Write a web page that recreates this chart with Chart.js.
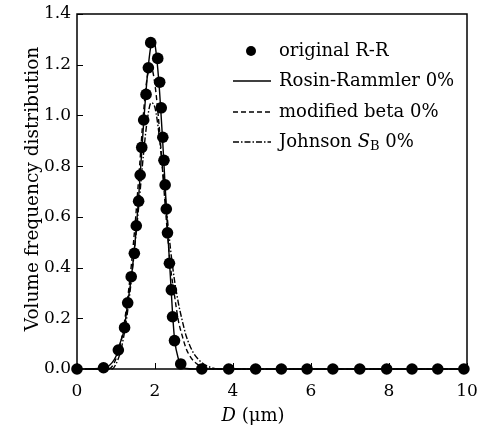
<!DOCTYPE html>
<html>
<head>
<meta charset="utf-8">
<script src="https://cdn.jsdelivr.net/npm/chart.js@4.4.1/dist/chart.umd.min.js"></script>
<style>
  html, body { margin: 0; padding: 0; background: #fff; }
  #wrap { width: 482px; height: 431px; position: relative; }
</style>
</head>
<body>
<div id="wrap"><canvas id="chart"></canvas></div>
<script>
// Volume frequency distribution vs droplet diameter D (um)

// original R-R sample points
const dotD = [0, 0.68, 1.06, 1.22, 1.30, 1.39, 1.47, 1.52, 1.58, 1.62, 1.66, 1.71, 1.77, 1.83, 1.89,
    2.07, 2.12, 2.16, 2.20, 2.23, 2.26, 2.29, 2.32, 2.37, 2.42, 2.45, 2.50, 2.66,
    3.20, 3.89, 4.58, 5.24, 5.90, 6.56, 7.25, 7.94, 8.59, 9.25, 9.92];
const dotV = [0, 0.005, 0.075, 0.163, 0.261, 0.364, 0.456, 0.565, 0.662, 0.765, 0.874, 0.982, 1.083, 1.188, 1.287,
    1.225, 1.131, 1.030, 0.914, 0.823, 0.726, 0.631, 0.537, 0.417, 0.312, 0.206, 0.112, 0.020,
    0, 0, 0, 0, 0, 0, 0, 0, 0, 0, 0];

// Rosin-Rammler 0% (solid)
const rrD = [0, 0.7, 0.9, 1.0, 1.1, 1.2, 1.3, 1.4, 1.5, 1.6, 1.7, 1.8, 1.9, 1.95, 2.0, 2.1, 2.2, 2.3, 2.4, 2.45, 2.5, 2.6, 2.7, 2.8, 3.0, 10];
const rrV = [0, 0.003, 0.025, 0.05, 0.10, 0.15, 0.26, 0.37, 0.52, 0.72, 0.95, 1.15, 1.28, 1.30, 1.28, 1.13, 0.89, 0.61, 0.35, 0.22, 0.12, 0.04, 0.01, 0.002, 0, 0];

// modified beta 0% (dashed)
const betaD = [0, 0.8, 0.9, 1.0, 1.1, 1.2, 1.3, 1.4, 1.5, 1.6, 1.7, 1.8, 1.9, 2.0, 2.1, 2.2, 2.3, 2.4, 2.5, 2.6, 2.7, 2.8, 2.9, 3.0, 3.1, 3.3, 3.5, 10];
const betaV = [0, 0, 0.01, 0.04, 0.09, 0.17, 0.28, 0.42, 0.59, 0.79, 1.0, 1.15, 1.19, 1.12, 0.97, 0.77, 0.57, 0.40, 0.29, 0.19, 0.13, 0.08, 0.05, 0.03, 0.017, 0.005, 0, 0];

// Johnson SB 0% (dash-dot)
const sbD = [0, 0.9, 1.0, 1.1, 1.2, 1.3, 1.4, 1.5, 1.6, 1.7, 1.8, 1.9, 2.0, 2.1, 2.2, 2.3, 2.4, 2.5, 2.6, 2.7, 2.8, 2.9, 3.0, 3.2, 3.4, 3.7, 10];
const sbV = [0, 0, 0.02, 0.06, 0.13, 0.23, 0.36, 0.51, 0.67, 0.84, 0.98, 1.05, 1.03, 0.93, 0.78, 0.62, 0.47, 0.35, 0.26, 0.19, 0.13, 0.09, 0.06, 0.025, 0.008, 0, 0];

const FONT = '"DejaVu Serif", serif';

function pts(xs, ys) {
    return xs.map((x, i) => ({ x, y: ys[i] }));
}

// frame, inward tick marks, axis titles and legend
const decorations = {
    id: 'decorations',
    beforeDatasetsDraw(chart) {
        const { ctx, chartArea: a } = chart;
        const xs = chart.scales.x, ys = chart.scales.y;
        ctx.save();
        ctx.strokeStyle = '#000';
        ctx.lineWidth = 1.5;
        ctx.strokeRect(a.left, a.top, a.right - a.left, a.bottom - a.top);
        ctx.lineWidth = 1;
        ctx.beginPath();
        xs.ticks.forEach(t => {
            const px = Math.round(xs.getPixelForValue(t.value)) + 0.5;
            ctx.moveTo(px, a.bottom);
            ctx.lineTo(px, a.bottom - 6);
        });
        ys.ticks.forEach(t => {
            const py = Math.round(ys.getPixelForValue(t.value)) + 0.5;
            ctx.moveTo(a.left, py);
            ctx.lineTo(a.left + 6, py);
        });
        ctx.stroke();
        ctx.restore();
    },
    afterDraw(chart) {
        const { ctx } = chart;
        ctx.save();
        ctx.fillStyle = '#000';
        ctx.strokeStyle = '#000';

        // y title
        ctx.save();
        ctx.translate(33, 189);
        ctx.rotate(-Math.PI / 2);
        ctx.font = '18.5px ' + FONT;
        ctx.textAlign = 'center';
        ctx.textBaseline = 'middle';
        ctx.fillText('Volume frequency distribution', 0, 0);
        ctx.restore();

        // x title: italic D + (µm)
        ctx.textBaseline = 'middle';
        ctx.textAlign = 'left';
        ctx.font = 'italic 18px ' + FONT;
        const dW = ctx.measureText('D').width;
        ctx.font = '18px ' + FONT;
        const restW = ctx.measureText(' (\u03bcm)').width;
        let x0 = 253 - (dW + restW) / 2;
        ctx.font = 'italic 18px ' + FONT;
        ctx.fillText('D', x0, 416);
        ctx.font = '18px ' + FONT;
        ctx.fillText(' (\u03bcm)', x0 + dW, 416);

        // legend
        const rows = [51, 81, 112, 142];
        const sx0 = 233, sx1 = 271, tx = 279;
        ctx.beginPath();
        ctx.arc(251, rows[0], 5, 0, Math.PI * 2);
        ctx.fill();
        ctx.lineWidth = 1.4;
        const dashes = [[], [5, 3], [6, 2, 1.5, 2]];
        dashes.forEach((d, i) => {
            ctx.setLineDash(d);
            ctx.beginPath();
            ctx.moveTo(sx0, rows[i + 1]);
            ctx.lineTo(sx1, rows[i + 1]);
            ctx.stroke();
        });
        ctx.setLineDash([]);
        ctx.font = '18px ' + FONT;
        ctx.fillText('original R-R', tx, rows[0]);
        ctx.fillText('Rosin-Rammler 0%', tx, rows[1]);
        ctx.fillText('modified beta 0%', tx, rows[2]);
        let jx = tx;
        ctx.fillText('Johnson ', jx, rows[3]);
        jx += ctx.measureText('Johnson ').width;
        ctx.font = 'italic 18px ' + FONT;
        ctx.fillText('S', jx, rows[3]);
        jx += ctx.measureText('S').width;
        ctx.font = '13px ' + FONT;
        ctx.fillText('B', jx, rows[3] + 5);
        jx += ctx.measureText('B').width;
        ctx.font = '18px ' + FONT;
        ctx.fillText(' 0%', jx, rows[3]);
        ctx.restore();
    }
};

const lineBase = {
    type: 'line',
    borderColor: '#000',
    borderWidth: 1.4,
    pointRadius: 0,
    fill: false,
    cubicInterpolationMode: 'monotone',
    clip: false
};

new Chart(document.getElementById('chart'), {
    type: 'line',
    data: {
        datasets: [
            { ...lineBase, label: 'Rosin-Rammler 0%', data: pts(rrD, rrV) },
            { ...lineBase, label: 'modified beta 0%', data: pts(betaD, betaV), borderDash: [5, 3] },
            { ...lineBase, label: 'Johnson SB 0%', data: pts(sbD, sbV), borderDash: [6, 2, 1.5, 2] },
            {
                label: 'original R-R',
                data: pts(dotD, dotV),
                showLine: false,
                pointRadius: 5.8,
                pointHoverRadius: 5.8,
                backgroundColor: '#000',
                borderColor: '#000',
                borderWidth: 0,
                clip: false
            }
        ]
    },
    options: {
        animation: false,
        responsive: true,
        maintainAspectRatio: false,
        events: [],
        layout: { padding: { top: 14, right: 15, left: 0, bottom: 0 } },
        plugins: {
            legend: { display: false },
            tooltip: { enabled: false }
        },
        scales: {
            x: {
                type: 'linear',
                min: 0,
                max: 10,
                grid: { display: false, drawTicks: false },
                border: { display: false },
                afterFit: s => {
                    s.height = 62;
                    s.paddingLeft = 0;
                    s.paddingRight = 0;
                },
                ticks: {
                    stepSize: 2,
                    color: '#000',
                    padding: 12,
                    maxRotation: 0,
                    font: { family: FONT, size: 17 }
                }
            },
            y: {
                min: 0,
                max: 1.4,
                grid: { display: false, drawTicks: false },
                border: { display: false },
                afterFit: s => {
                    s.width = 77;
                    s.paddingTop = 0;
                    s.paddingBottom = 0;
                },
                ticks: {
                    stepSize: 0.2,
                    color: '#000',
                    padding: 6,
                    font: { family: FONT, size: 17 },
                    callback: v => v.toFixed(1)
                }
            }
        }
    },
    plugins: [decorations]
});
</script>
</body>
</html>
